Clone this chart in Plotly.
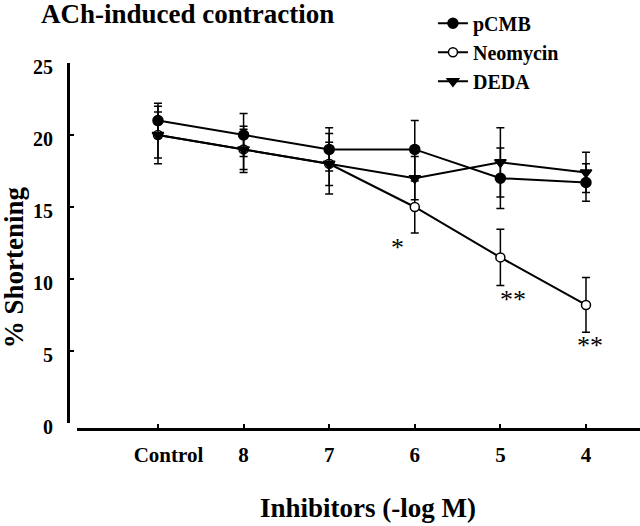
import plotly.graph_objects as go

# ---------- DATA ----------
DOSES = ["Control", "8", "7", "6", "5", "4"]

PCMB = [21.0, 20.0, 19.0, 19.0, 17.0, 16.7]
PCMB_ERR = [1.2, 1.5, 1.5, 2.0, 2.1, 1.3]

NEOMYCIN = [20.0, 19.0, 18.0, 15.0, 11.5, 8.2]
NEOMYCIN_ERR = [2.0, 1.6, 2.1, 1.8, 1.95, 1.9]

DEDA = [20.0, 19.0, 18.0, 17.0, 18.1, 17.4]
DEDA_ERR = [1.6, 1.4, 1.5, 1.5, 2.4, 1.4]

# significance marks under the Neomycin points
SIG_INDEX = [3, 4, 5]
SIG_TEXT = ["*", "**", "**"]

FONT = "Liberation Serif"

fig = go.Figure()


def add_series(name, y, err, symbol, fill):
    fig.add_trace(go.Scatter(
        x=DOSES, y=y, name=name,
        mode="lines+markers",
        line=dict(color="black", width=2),
        marker=dict(symbol=symbol, size=10 if fill == "black" else 9,
                    color=fill, line=dict(color="black", width=1.5)),
        error_y=dict(type="data", array=err, visible=True,
                     color="black", thickness=1.5, width=4),
    ))


add_series("pCMB", PCMB, PCMB_ERR, "circle", "black")
add_series("Neomycin", NEOMYCIN, NEOMYCIN_ERR, "circle", "white")
add_series("DEDA", DEDA, DEDA_ERR, "triangle-down", "black")

# ---------- ANNOTATIONS ----------
shifts = {3: (-17, 2), 4: (13, 2), 5: (4, 3)}
annotations = []
for i, txt in zip(SIG_INDEX, SIG_TEXT):
    dx, dy = shifts[i]
    annotations.append(dict(
        x=i, y=NEOMYCIN[i] - NEOMYCIN_ERR[i], xref="x", yref="y",
        text=txt, showarrow=False, yanchor="top",
        xshift=dx, yshift=dy,
        font=dict(family=FONT, size=26, color="black", weight="normal"),
    ))

bold = dict(family=FONT, size=27, color="black", weight="bold")
annotations.append(dict(
    x=-0.0507, y=1.134, xref="paper", yref="paper",
    text="ACh-induced contraction", showarrow=False,
    xanchor="left", yanchor="middle", font=bold,
))
annotations.append(dict(
    x=0.5245, y=-0.216, xref="paper", yref="paper",
    text="Inhibitors (-log M)", showarrow=False,
    xanchor="center", yanchor="middle", font=bold,
))
annotations.append(dict(
    x=-0.094, y=0.4426, xref="paper", yref="paper",
    text="% Shortening", showarrow=False, textangle=-90,
    xanchor="center", yanchor="middle", font=bold,
))

# ---------- LAYOUT ----------
fig.update_layout(
    template="none",
    width=640, height=526,
    margin=dict(l=68, r=0, t=63, b=97, autoexpand=False),
    paper_bgcolor="white", plot_bgcolor="white",
    font=dict(family=FONT, color="black", weight="bold"),
    showlegend=True,
    legend=dict(
        x=0.638, y=1.162, xanchor="left", yanchor="top",
        font=dict(family=FONT, size=20, color="black", weight="bold"),
        bgcolor="rgba(0,0,0,0)", tracegroupgap=0, itemwidth=30,
    ),
    annotations=annotations,
)

tick_text = ["\u00a0" * 4 + d if d == "Control" else d for d in DOSES]

fig.update_xaxes(
    type="category",
    domain=[9 / 572, 1],
    range=[-0.946, 5.631],
    anchor="free", position=0, automargin=False,
    tickvals=DOSES, ticktext=tick_text,
    showline=True, linecolor="black", linewidth=3,
    ticks="inside", ticklen=4, tickwidth=1.5, tickcolor="black",
    tickfont=dict(family=FONT, size=21, color="black", weight="bold"),
    ticklabelstandoff=6,
    showgrid=False, zeroline=False,
)
fig.update_yaxes(
    domain=[6 / 366, 1],
    range=[0, 25],
    anchor="free", position=0, automargin=False,
    tickvals=[0, 5, 10, 15, 20, 25],
    showline=True, linecolor="black", linewidth=3,
    ticks="inside", ticklen=4, tickwidth=1.5, tickcolor="black",
    tickfont=dict(family=FONT, size=20, color="black", weight="bold"),
    ticklabelstandoff=10, ticklabelshift=4,
    showgrid=False, zeroline=False,
)

# plotly's page keeps the browser's default 8px body margin; drop it
fig.write_html(
    "out.html",
    config={"displayModeBar": False},
    post_script="document.body.style.margin='0';",
)
